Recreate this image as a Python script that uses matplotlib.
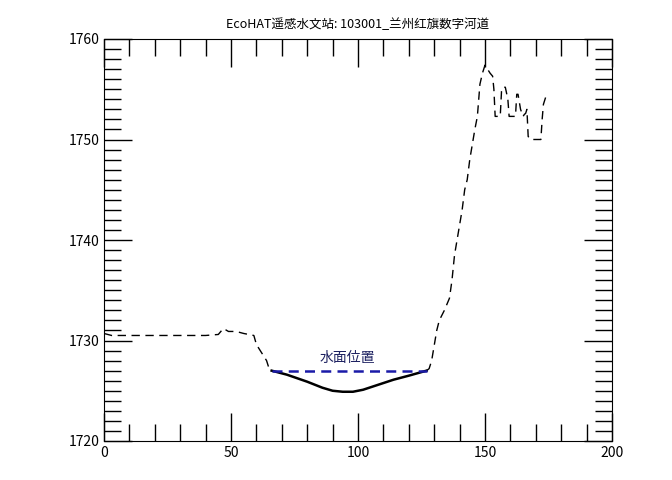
import matplotlib
matplotlib.use("Agg")
import matplotlib.pyplot as plt
from matplotlib import font_manager as fm
from matplotlib.ticker import MultipleLocator

cjk = None
for f in fm.fontManager.ttflist:
    if "CJK" in f.name and ("SC" in f.name or cjk is None):
        cjk = f
        if "SC" in f.name:
            break
if cjk is not None:
    plt.rcParams["font.family"] = "sans-serif"
    plt.rcParams["font.sans-serif"] = [cjk.name, "DejaVu Sans"]

left_x = [0, 3, 10, 20, 30, 40, 45, 47, 49, 52, 55, 57, 59, 60, 62, 64, 65, 66]
left_y = [1730.7, 1730.5, 1730.5, 1730.5, 1730.5, 1730.5, 1730.6, 1731.2, 1730.9, 1730.9, 1730.7, 1730.6, 1730.5, 1729.6, 1728.8, 1728.0, 1727.2, 1727.0]
bed_x = [66, 72, 80, 86, 90, 94, 98, 102, 108, 114, 120, 127]
bed_y = [1727.0, 1726.6, 1725.9, 1725.3, 1725.0, 1724.9, 1724.9, 1725.1, 1725.6, 1726.1, 1726.5, 1727.0]
right_x = [127, 128, 129, 130, 131, 132, 134, 136, 137, 138, 139, 140, 141, 142, 143, 144, 145, 146, 147, 148, 149, 150, 151, 152, 153, 153.5,
           154, 155, 156, 156.5, 157, 158, 159, 159.5, 160, 161, 162, 162.5, 163, 164, 165, 165.5, 166, 166.5, 167, 168, 170, 172, 172.5, 173, 174]
right_y = [1727.0, 1727.2, 1728.0, 1729.5, 1731.0, 1732.0, 1733.0, 1734.2, 1736.0, 1738.5, 1740.0, 1741.5, 1743.0, 1745.0, 1746.0, 1748.0, 1749.5, 1751.0, 1752.3, 1755.5, 1756.6, 1757.4, 1757.0, 1756.6, 1756.3, 1755.0,
           1752.3, 1752.3, 1752.3, 1754.8, 1755.2, 1755.2, 1754.0, 1752.3, 1752.3, 1752.3, 1752.3, 1754.5, 1754.5, 1753.0, 1752.3, 1752.5, 1752.6, 1753.0, 1750.3, 1750.0, 1750.0, 1750.0, 1752.0, 1753.5, 1754.3]
water_x = [66, 127]
water_y = [1727.0, 1727.0]

fig = plt.figure(figsize=(6.72, 4.8), dpi=100)
ax = fig.add_axes([104/672, 39/480, 508/672, 402/480])
ax.plot(left_x, left_y, color="black", lw=1, ls=(0, (6, 4)))
ax.plot(right_x, right_y, color="black", lw=1, ls=(0, (6, 4)))
ax.plot(bed_x, bed_y, color="black", lw=1.8)
ax.plot(water_x, water_y, color="#1a1aa8", lw=1.8, ls=(0, (4, 2.5)))
ax.text(96, 1727.6, "水面位置", color="#1c2060", fontsize=10, ha="center", va="bottom")

ax.set_xlim(0, 200)
ax.set_ylim(1720, 1760)
ax.xaxis.set_major_locator(MultipleLocator(50))
ax.xaxis.set_minor_locator(MultipleLocator(10))
ax.yaxis.set_major_locator(MultipleLocator(10))
ax.yaxis.set_minor_locator(MultipleLocator(1))
ax.tick_params(which="both", direction="in", top=True, right=True, labelsize=10)
ax.tick_params(which="major", length=20, width=1)
ax.tick_params(which="minor", length=12, width=1)
ax.set_title("EcoHAT遥感水文站: 103001_兰州红旗数字河道", fontsize=9, pad=8)
fig.savefig("out.png", dpi=100)
